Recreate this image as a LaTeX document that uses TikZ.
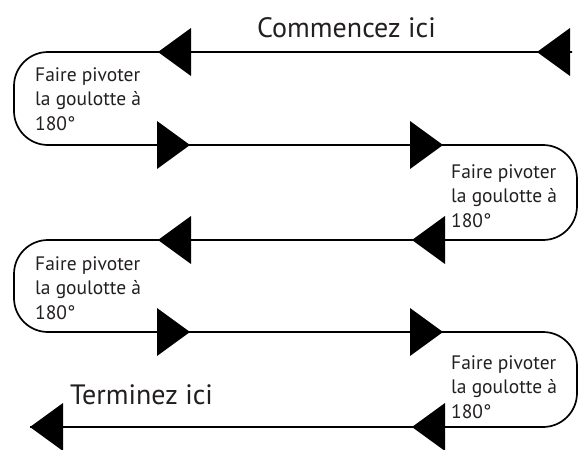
\documentclass[tikz,border=0pt]{standalone}
\usepackage{fontspec}
\setmainfont{PT Sans}
\definecolor{ink}{HTML}{231F20}

\begin{document}
\begin{tikzpicture}[x=1pt,y=-1pt,flow/.style={line width=1.7pt},
  note/.style={align=left,inner sep=0pt,anchor=north west,text=ink,font=\fontsize{19.5}{24.5}\selectfont},
  big/.style={inner sep=0pt,anchor=base west,text=ink,font=\fontsize{28}{34}\selectfont}]
\useasboundingbox (0,0) rectangle (579,450);
% the track, row by row
\coordinate (s) at (572,52); \coordinate (e) at (30,427);
\coordinate (l1) at (14,52); \coordinate (l2) at (14,145);
\coordinate (r2) at (577,145); \coordinate (r3) at (577,240);
\coordinate (l3) at (14,240); \coordinate (l4) at (14,332);
\coordinate (r4) at (577,332); \coordinate (r5) at (577,427);
\draw[flow,rounded corners=34pt] (s)--(l1)--(l2)--(r2)--(r3)--(l3)--(l4)--(r4)--(r5)--(e);
% arrow heads: tip x / row y / 1 = left, -1 = right
\foreach \x/\y/\d in {158/52/1,537/52/1,190/145/-1,443/145/-1,158/240/1,412/240/1,
  190/332/-1,443/332/-1,30/427/1,412/427/1}
  \fill (\x,\y) -- ++(33*\d,-24) -- ++(0,48) -- cycle;
\node[big] (start) at (257,37) {Commencez ici};
\node[big] (stop) at (70,404) {Terminez ici};
\node[note] (turn1) at (35,67) {Faire pivoter\\la goulotte à\\180°};
\node[note] (turn2) at (451,164) {Faire pivoter\\la goulotte à\\180°};
\node[note] (turn3) at (35,256) {Faire pivoter\\la goulotte à\\180°};
\node[note] (turn4) at (451,355) {Faire pivoter\\la goulotte à\\180°};
\end{tikzpicture}
\end{document}
